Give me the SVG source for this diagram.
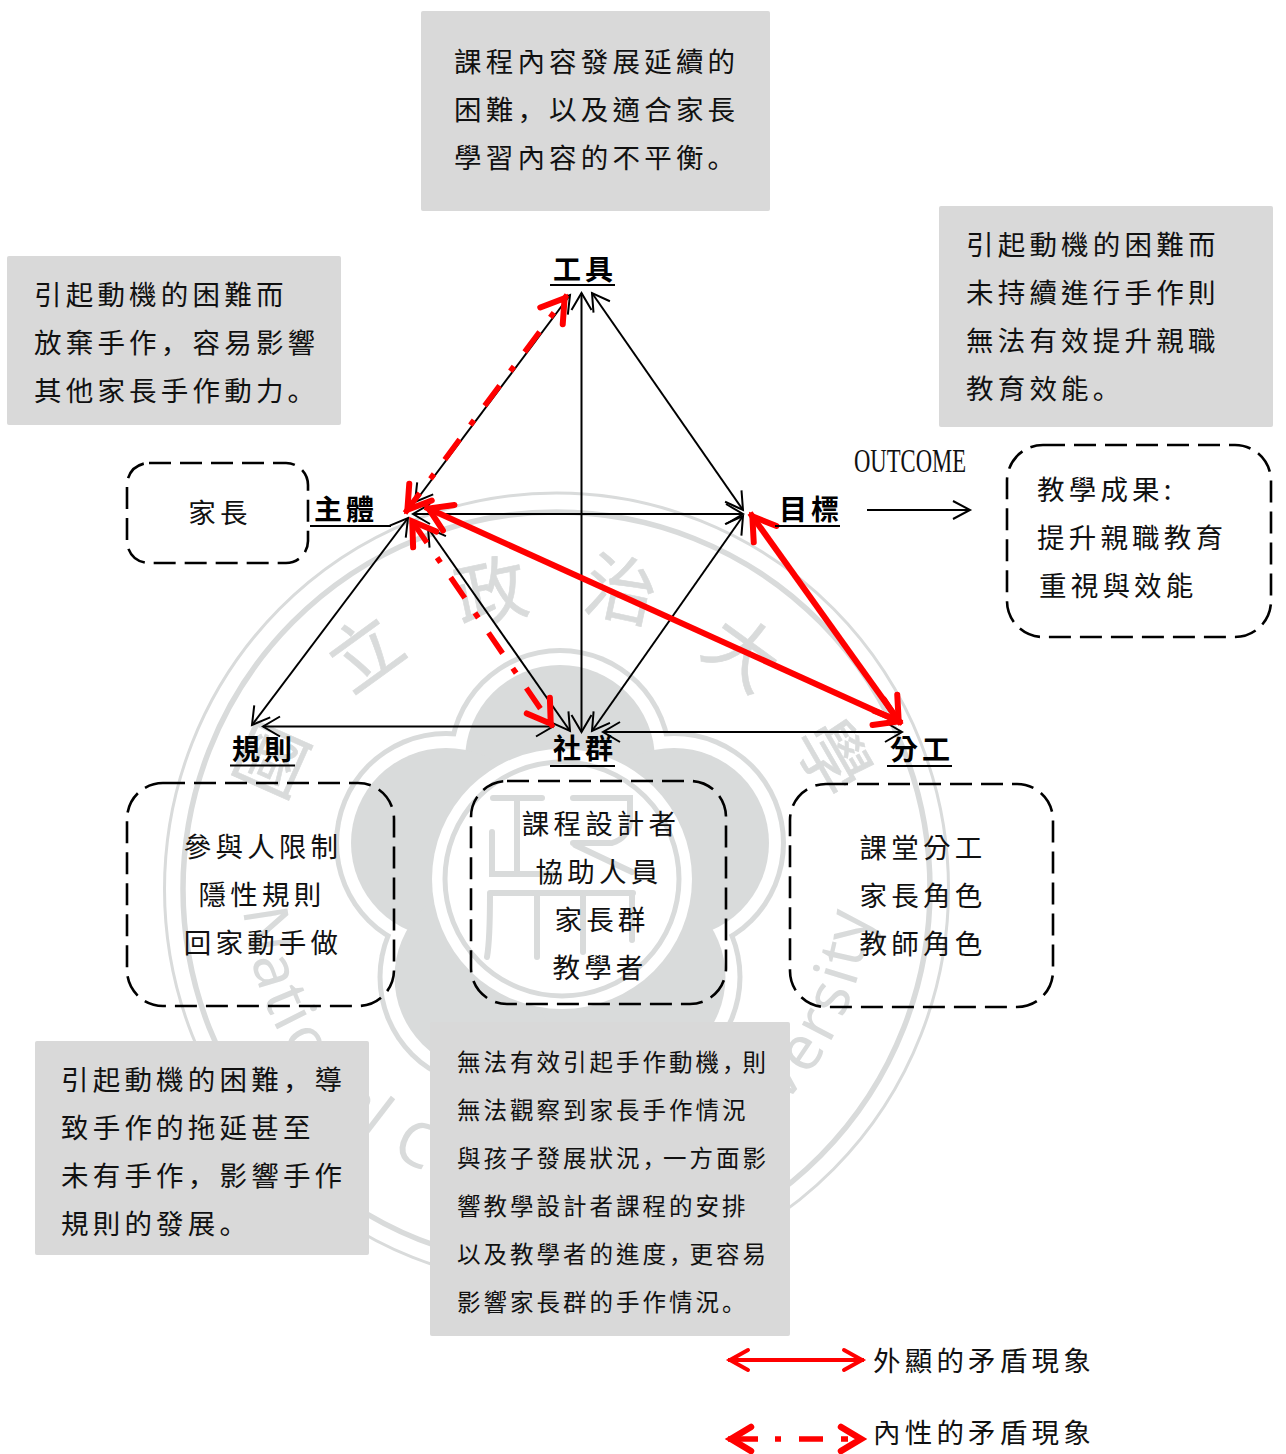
<svg xmlns="http://www.w3.org/2000/svg" xmlns:xlink="http://www.w3.org/1999/xlink" width="1286" height="1454" viewBox="0 0 1286 1454">
<style>
text{font-family:"Noto Sans CJK TC","Noto Sans CJK JP",sans-serif;fill:#111}
.t{font-size:27.5px;letter-spacing:4.2px}
.s{font-size:23.5px;letter-spacing:3px}
.c{text-anchor:middle}
.h{font-size:28px;font-weight:700;letter-spacing:4px;text-anchor:middle;fill:#000}
.p{font-family:"Noto Sans CJK SC",sans-serif}
.gb{fill:#d9d9d9}
.db{fill:none;stroke:#000;stroke-width:2.6;stroke-dasharray:22 9}
.u{stroke:#000;stroke-width:2.2;fill:none}
.k{stroke:#000;stroke-width:2;fill:none;marker-start:url(#ah);marker-end:url(#ah)}
.r{stroke:#f00;stroke-width:6;fill:none;marker-start:url(#rh);marker-end:url(#rh)}
.rd{stroke:#f00;stroke-width:5.5;fill:none;marker-start:url(#rh);marker-end:url(#rh)}
.wm{fill:#d9dbdb}
.wl{fill:none;stroke:#d9dbdb}
.wt{font-family:"Noto Sans CJK TC",sans-serif;font-size:72px;fill:#d9dbdb;stroke:#d9dbdb;stroke-width:.6;text-anchor:middle}
.we{font-family:"Noto Sans","Liberation Sans",sans-serif;font-size:62px;letter-spacing:3.5px;fill:#d9dbdb;text-anchor:middle}
</style>
<defs>
<marker id="ah" markerUnits="userSpaceOnUse" markerWidth="40" markerHeight="40" refX="20" refY="20" orient="auto-start-reverse" overflow="visible"><path d="M3 10L20 20L3 30" fill="none" stroke="#000" stroke-width="2"/></marker>
<marker id="rh" markerUnits="userSpaceOnUse" markerWidth="60" markerHeight="60" refX="34" refY="30" orient="auto-start-reverse" overflow="visible"><path d="M8 16L30 30L8 44" fill="none" stroke="#f00" stroke-width="6" stroke-linecap="round" stroke-linejoin="miter"/></marker>
<marker id="lh" markerUnits="userSpaceOnUse" markerWidth="50" markerHeight="50" refX="26" refY="25" orient="auto-start-reverse" overflow="visible"><path d="M6 15L24 25L6 35" fill="none" stroke="#f00" stroke-width="4" stroke-linecap="round"/></marker>
<marker id="ld" markerUnits="userSpaceOnUse" markerWidth="60" markerHeight="60" refX="31" refY="30" orient="auto-start-reverse" overflow="visible"><path d="M8 18L28 30L8 42" fill="none" stroke="#f00" stroke-width="6.5" stroke-linecap="round"/></marker>
<marker id="oa" markerUnits="userSpaceOnUse" markerWidth="40" markerHeight="40" refX="20" refY="20" orient="auto" overflow="visible"><path d="M3 11L20 20L3 29" fill="none" stroke="#000" stroke-width="2"/></marker>
<path id="wa" d="M243 887A314 314 0 0 0 871 887" fill="none"/>
</defs>
<rect width="1286" height="1454" fill="#fff"/>

<g id="watermark">
<ellipse class="wl" cx="556.5" cy="889" rx="392" ry="396" stroke-width="3"/>
<ellipse class="wl" cx="556.5" cy="889" rx="373.5" ry="377" stroke-width="5.5"/>
<g fill="#d9dbdb"><circle cx="560" cy="760" r="112"/><circle cx="446" cy="843" r="112"/><circle cx="674" cy="843" r="112"/><circle cx="489.5" cy="977" r="112"/><circle cx="630.5" cy="977" r="112"/></g>
<g fill="#fff"><circle cx="560" cy="760" r="107"/><circle cx="446" cy="843" r="107"/><circle cx="674" cy="843" r="107"/><circle cx="489.5" cy="977" r="107"/><circle cx="630.5" cy="977" r="107"/></g>
<g class="wm"><circle cx="560" cy="760" r="95"/><circle cx="446" cy="843" r="95"/><circle cx="674" cy="843" r="95"/><circle cx="489.5" cy="977" r="95"/><circle cx="630.5" cy="977" r="95"/><circle cx="560" cy="880" r="120"/></g>
<circle cx="562" cy="879" r="130" fill="#fff"/>
<circle class="wl" cx="562" cy="879" r="117" stroke-width="5"/>
<path class="wl" stroke-width="6" stroke-linecap="round" d="M493 798H542M517 798V874M492 832V874H555M490 893H633M490 893C490 920 490 940 487 957M537 893V957M583 893V952M632 893V940M573 798H630V822Q628 838 612 843M573 843H610M575 845L632 872"/>
<text class="wt" transform="translate(272 760) rotate(-66) translate(0 26)">國</text>
<text class="wt" transform="translate(365 653) rotate(-36) translate(0 26)">立</text>
<text class="wt" transform="translate(491 592) rotate(-12) translate(0 26)">政</text>
<text class="wt" transform="translate(621 590) rotate(12) translate(0 26)">治</text>
<text class="wt" transform="translate(743 653) rotate(36) translate(0 26)">大</text>
<text class="wt" transform="translate(833 757) rotate(60) translate(0 26)">學</text>
<text class="we"><textPath xlink:href="#wa" href="#wa" startOffset="50%">National Chengchi University</textPath></text>
</g>

<g id="note-tool"><rect class="gb" x="421" y="11" width="349" height="200" rx="2"/>
<text class="t" x="454" y="72">課程內容發展延續的</text>
<text class="t" x="454" y="120">困難<tspan class="p">，</tspan>以及適合家長</text>
<text class="t" x="454" y="168">學習內容的不平衡<tspan class="p">。</tspan></text></g>

<g id="note-subject"><rect class="gb" x="7" y="256" width="334" height="169" rx="2"/>
<text class="t" x="34" y="305">引起動機的困難而</text>
<text class="t" x="34" y="353">放棄手作<tspan class="p">，</tspan>容易影響</text>
<text class="t" x="34" y="401">其他家長手作動力<tspan class="p">。</tspan></text></g>

<g id="note-object"><rect class="gb" x="939" y="206" width="334" height="221" rx="2"/>
<text class="t" x="966" y="255">引起動機的困難而</text>
<text class="t" x="966" y="303">未持續進行手作則</text>
<text class="t" x="966" y="351">無法有效提升親職</text>
<text class="t" x="966" y="399">教育效能<tspan class="p">。</tspan></text></g>

<g id="note-rules"><rect class="gb" x="35" y="1041" width="334" height="214" rx="2"/>
<text class="t" x="61" y="1090">引起動機的困難<tspan class="p">，</tspan>導</text>
<text class="t" x="61" y="1138">致手作的拖延甚至</text>
<text class="t" x="61" y="1186">未有手作<tspan class="p">，</tspan>影響手作</text>
<text class="t" x="61" y="1234">規則的發展<tspan class="p">。</tspan></text></g>

<g id="note-community"><rect class="gb" x="430" y="1022" width="360" height="314" rx="2"/>
<text class="s" x="457" y="1071">無法有效引起手作動機<tspan class="p" letter-spacing="-3">，</tspan>則</text>
<text class="s" x="457" y="1119">無法觀察到家長手作情況</text>
<text class="s" x="457" y="1167">與孩子發展狀況<tspan class="p" letter-spacing="-3">，</tspan>一方面影</text>
<text class="s" x="457" y="1215">響教學設計者課程的安排</text>
<text class="s" x="457" y="1263">以及教學者的進度<tspan class="p" letter-spacing="-3">，</tspan>更容易</text>
<text class="s" x="457" y="1311">影響家長群的手作情況<tspan class="p">。</tspan></text></g>

<g id="connectors">
<line class="k" x1="415" y1="502" x2="570" y2="295"/>
<line class="k" x1="581.5" y1="293" x2="581.5" y2="732"/>
<line class="k" x1="592" y1="293" x2="743" y2="510"/>
<line class="k" x1="413" y1="514" x2="743" y2="514"/>
<line class="k" x1="408" y1="518" x2="252" y2="725"/>
<line class="k" x1="263" y1="726.5" x2="553" y2="726.5"/>
<line class="k" x1="428" y1="528" x2="570" y2="731"/>
<line class="k" x1="592" y1="731" x2="743" y2="516"/>
<line class="k" x1="603" y1="732" x2="902" y2="732"/>
<line x1="867" y1="510" x2="970" y2="510" stroke="#000" stroke-width="2" marker-end="url(#oa)"/>
<line class="r" x1="425" y1="507" x2="902" y2="723"/>
<line class="r" x1="750" y1="513" x2="901" y2="724"/>
<line class="rd" x1="567" y1="295" x2="405" y2="513" stroke-dasharray="25 18 6 18" stroke-dashoffset="21"/>
<line class="rd" x1="410" y1="518" x2="553" y2="727" stroke-dasharray="25 18 6 18" stroke-dashoffset="62"/>
<line x1="728" y1="1360" x2="864" y2="1360" stroke="#f00" stroke-width="4" marker-start="url(#lh)" marker-end="url(#lh)"/>
<line x1="728" y1="1439" x2="864" y2="1439" stroke="#f00" stroke-width="5.5" stroke-dasharray="30 17 6 18 24 18 7 16" marker-start="url(#ld)" marker-end="url(#ld)"/>
</g>

<g id="node-tool"><text class="h" x="585" y="280">工具</text><line class="u" x1="550" y1="285" x2="615" y2="285"/></g>
<g id="node-subject"><text class="h" x="346" y="520">主體</text><line class="u" x1="310" y1="526" x2="391" y2="526"/></g>
<g id="node-object"><text class="h" x="811" y="520">目標</text><line class="u" x1="775" y1="526" x2="840" y2="526"/></g>
<g id="node-rules"><text class="h" x="264" y="760">規則</text><line class="u" x1="230" y1="765.5" x2="295" y2="765.5"/></g>
<g id="node-community"><text class="h" x="585" y="759">社群</text><line class="u" x1="550" y1="766" x2="615" y2="766"/></g>
<g id="node-division"><text class="h" x="922" y="760">分工</text><line class="u" x1="887" y1="766" x2="952" y2="766"/></g>

<g id="box-parent"><rect class="db" x="127" y="463" width="181" height="100" rx="22"/>
<text class="t c" x="220" y="523">家長</text></g>
<g id="box-rules"><rect class="db" x="127" y="783" width="267" height="223" rx="36"/>
<text class="t c" x="263" y="857">參與人限制</text>
<text class="t c" x="262" y="905">隱性規則</text>
<text class="t c" x="263" y="953">回家動手做</text></g>
<g id="box-community"><rect class="db" x="471" y="781" width="255" height="223" rx="36"/>
<text class="t c" x="601" y="834">課程設計者</text>
<text class="t c" x="599" y="882">協助人員</text>
<text class="t c" x="602" y="930">家長群</text>
<text class="t c" x="600" y="978">教學者</text></g>
<g id="box-division"><rect class="db" x="790" y="784" width="263" height="223" rx="36"/>
<text class="t c" x="923" y="858">課堂分工</text>
<text class="t c" x="923" y="906">家長角色</text>
<text class="t c" x="923" y="954">教師角色</text></g>
<g id="box-outcome"><rect class="db" x="1007" y="445" width="264" height="192" rx="36"/>
<text class="t" x="1037" y="500">教學成果:</text>
<text class="t" x="1037" y="548">提升親職教育</text>
<text class="t" x="1039" y="596">重視與效能</text></g>
<text id="outcome-label" x="854" y="472" textLength="112" lengthAdjust="spacingAndGlyphs" style="font-family:'Liberation Serif',serif;font-size:33px">OUTCOME</text>

<g id="legend">
<text class="t" x="873" y="1371">外顯的矛盾現象</text>
<text class="t" x="873" y="1443">內性的矛盾現象</text>
</g>
</svg>
